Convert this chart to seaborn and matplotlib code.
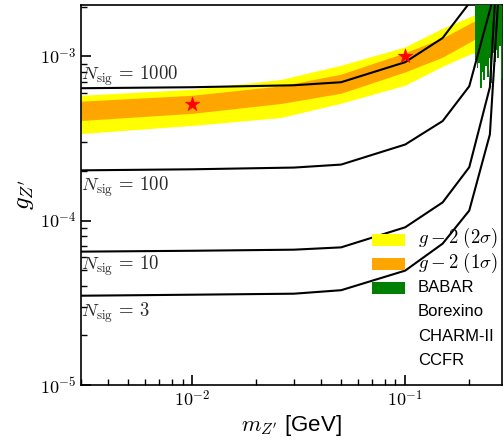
import numpy as np
import pandas as pd
import matplotlib
matplotlib.use("Agg")
import matplotlib.pyplot as plt
from matplotlib.patches import Rectangle
from matplotlib.ticker import FuncFormatter
import seaborn as sns

# ---- data ----
mass_sig = [0.003, 0.01, 0.03, 0.05, 0.1, 0.15, 0.2, 0.25, 0.3]
g_n1000 = [6.38e-4, 6.47e-4, 6.65e-4, 6.94e-4, 9.19e-4, 1.29e-3, 2.1e-3, 6e-3, 2e-2]
g_n100 = [2.02e-4, 2.05e-4, 2.10e-4, 2.19e-4, 2.90e-4, 4.03e-4, 6.56e-4, 1.9e-3, 5e-3]
g_n10 = [6.47e-5, 6.55e-5, 6.65e-5, 6.87e-5, 9.10e-5, 1.29e-4, 2.11e-4, 6.47e-4, 3.5e-2]
g_n3 = [3.49e-5, 3.54e-5, 3.59e-5, 3.77e-5, 4.96e-5, 7.24e-5, 1.15e-4, 3.34e-4, 1.5e-2]
nsig_values = [1000, 100, 10, 3]
nsig_label_y = [7.55e-4, 1.61e-4, 5.28e-5, 2.73e-5]

band_mass = [0.003, 0.01, 0.026, 0.05, 0.1, 0.15, 0.22]
band_2s_hi = [5.78e-4, 6.29e-4, 7.21e-4, 8.81e-4, 1.14e-3, 1.48e-3, 1.82e-3]
band_1s_hi = [5.32e-4, 5.78e-4, 6.59e-4, 7.77e-4, 1.05e-3, 1.29e-3, 1.68e-3]
band_1s_lo = [4.06e-4, 4.49e-4, 5.15e-4, 5.95e-4, 8.02e-4, 9.86e-4, 1.30e-3]
band_2s_lo = [3.38e-4, 3.79e-4, 4.23e-4, 5.17e-4, 6.66e-4, 8.69e-4, 1.08e-3]

babar_mass = [0.2124, 0.2164, 0.2206, 0.2247, 0.2290, 0.2333, 0.2378, 0.2423,
              0.2469, 0.2516, 0.2564, 0.2613, 0.2662, 0.2713, 0.2764, 0.2817, 0.2870]
babar_low = [9.45e-4, 8.45e-4, 9.06e-4, 6.38e-4, 7.99e-4, 7.14e-4, 8.69e-4, 7.45e-4,
             9.72e-4, 6.84e-4, 1.04e-3, 9.19e-4, 1.09e-3, 9.72e-4, 1.15e-3, 7.24e-4, 1.03e-3]

star_mass = [0.01, 0.1]
star_g = [5.1e-4, 1.0e-3]

legend_labels = [r"$g-2\ (2\sigma)$", r"$g-2\ (1\sigma)$", "BABAR", "Borexino", "CHARM-II", "CCFR"]

# ---- style ----
sns.set_style("ticks")
plt.rcParams["font.family"] = ["Liberation Sans", "DejaVu Sans"]
plt.rcParams["mathtext.fontset"] = "cm"
plt.rcParams["text.color"] = "black"
plt.rcParams["xtick.color"] = "black"
plt.rcParams["ytick.color"] = "black"
plt.rcParams["axes.labelcolor"] = "black"

fig = plt.figure(figsize=(5.04, 4.43), dpi=100)
ax = fig.add_axes([0.161, 0.131, 0.835, 0.858])

c_yellow = "#ffff00"
c_orange = "#ffa500"
c_green = "#008000"
legend_colors = [c_yellow, c_orange, c_green, "none", "none", "none"]

ax.fill_between(band_mass, band_2s_lo, band_2s_hi, color=c_yellow, lw=0, zorder=1)
ax.fill_between(band_mass, band_1s_lo, band_1s_hi, color=c_orange, lw=0, zorder=2)
ax.fill_between(babar_mass, babar_low, [1.0] * len(babar_mass), step="post",
                color=c_green, lw=0, zorder=3)

df = pd.DataFrame({
    "m": mass_sig * 4,
    "g": g_n1000 + g_n100 + g_n10 + g_n3,
    "N": sum([[n] * len(mass_sig) for n in nsig_values], []),
})
sns.lineplot(data=df, x="m", y="g", units="N", estimator=None, color="black",
             lw=1.5, ax=ax, zorder=4, sort=False)

sns.scatterplot(x=star_mass, y=star_g, marker="*", s=120, color="red",
                edgecolor="red", linewidth=0.4, ax=ax, zorder=5)

for n, yv in zip(nsig_values, nsig_label_y):
    ax.text(0.003, yv, r"$N_{\rm sig}\,=\,%d$" % n, fontsize=13.5, color="#2a2a2a",
            ha="left", va="center", zorder=6)

ax.set_xscale("log")
ax.set_yscale("log")
ax.set_xlim(0.003, 0.285)
ax.set_ylim(1e-5, 2.05e-3)

fmt = FuncFormatter(lambda v, p: r"$10^{%d}$" % int(round(np.log10(v))))
ax.xaxis.set_major_formatter(fmt)
ax.yaxis.set_major_formatter(fmt)

ax.tick_params(axis="both", which="both", direction="in", top=False, right=False,
               labelsize=13, colors="black")
ax.tick_params(which="major", length=7, width=1.2)
ax.tick_params(which="minor", length=4, width=1.0)
for s in ax.spines.values():
    s.set_linewidth(1.2)
    s.set_color("black")

ax.set_xlabel(r"$m_{Z^\prime}$ [GeV]", fontsize=16, labelpad=2)
ax.set_ylabel(r"$g_{Z^\prime}$", fontsize=18, labelpad=3)

# legend, laid out row by row in axes coordinates
row_top = 0.3816
row_step = 0.0632
for i, (lab, col) in enumerate(zip(legend_labels, legend_colors)):
    yc = row_top - i * row_step
    if col != "none":
        ax.add_patch(Rectangle((0.691, yc - 0.0165), 0.0784, 0.033, transform=ax.transAxes,
                               facecolor=col, edgecolor="none", zorder=7))
    is_math = lab.startswith("$")
    ax.text(0.800, yc + (0.004 if is_math else 0.0), lab, transform=ax.transAxes,
            fontsize=13.5 if is_math else 12, ha="left", va="center", zorder=8)

fig.savefig("out.png", dpi=100)
